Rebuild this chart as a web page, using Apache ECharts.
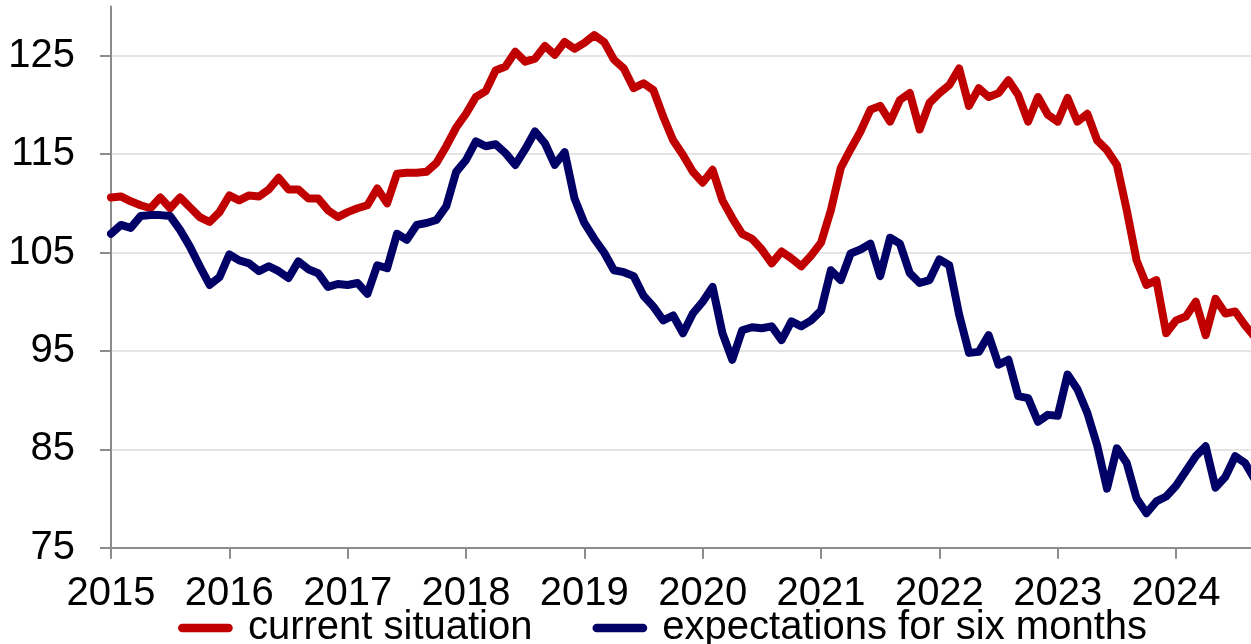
<!DOCTYPE html>
<html>
<head>
<meta charset="utf-8">
<script src="https://cdn.jsdelivr.net/npm/echarts@6/dist/echarts.min.js"></script>
<style>
  html, body { margin: 0; padding: 0; background: #fff; }
  #chart { width: 1251px; height: 644px; }
</style>
</head>
<body>
<div id="chart"></div>
<script>
// monthly values, Jan 2015 onwards
const currentSituation = [
  110.6, 110.7, 110.2, 109.8, 109.5, 110.6, 109.5, 110.6, 109.6, 108.6, 108.1, 109.1,
  110.8, 110.3, 110.8, 110.7, 111.4, 112.6, 111.4, 111.4, 110.5, 110.5, 109.3, 108.6,
  109.1, 109.5, 109.8, 111.5, 110.0, 113.0, 113.1, 113.1, 113.2, 114.1, 115.8, 117.7,
  119.1, 120.8, 121.4, 123.5, 123.9, 125.4, 124.4, 124.7, 126.0, 125.1, 126.4, 125.7,
  126.3, 127.1, 126.4, 124.6, 123.7, 121.7, 122.2, 121.5, 118.8, 116.4, 114.9, 113.2,
  112.1, 113.4, 110.3, 108.5, 106.9, 106.4, 105.3, 103.9, 105.1, 104.4, 103.6, 104.7,
  106.0, 109.3, 113.6, 115.5, 117.3, 119.5, 119.9, 118.3, 120.5, 121.2, 117.5, 120.2,
  121.2, 122.0, 123.7, 119.9, 121.7, 120.8, 121.2, 122.5, 121.0, 118.3, 120.8, 119.0,
  118.3, 120.7, 118.3, 119.1, 116.4, 115.4, 113.9, 109.3, 104.2, 101.7, 102.2, 96.8,
  98.1, 98.5, 100.0, 96.6, 100.3, 98.8, 99.0, 97.6, 96.4
];
const expectations = [
  106.9, 107.8, 107.5, 108.7, 108.8, 108.8, 108.7, 107.3, 105.6, 103.6, 101.7, 102.5,
  104.8, 104.2, 103.9, 103.1, 103.6, 103.1, 102.4, 104.1, 103.3, 102.9, 101.5, 101.8,
  101.7, 101.9, 100.8, 103.7, 103.4, 106.9, 106.3, 107.8, 108.0, 108.3, 109.7, 113.2,
  114.4, 116.3, 115.8, 116.0, 115.1, 113.9, 115.5, 117.3, 116.1, 113.9, 115.2, 110.5,
  108.0, 106.4, 105.0, 103.2, 103.0, 102.6, 100.6, 99.5, 98.1, 98.6, 96.8, 98.8,
  100.0, 101.5, 96.8, 94.1, 97.1, 97.4, 97.3, 97.5, 96.1, 98.0, 97.5, 98.1,
  99.1, 103.2, 102.2, 104.9, 105.3, 105.9, 102.6, 106.5, 105.9, 102.9, 101.9, 102.2,
  104.3, 103.7, 98.7, 94.8, 94.9, 96.6, 93.6, 94.1, 90.4, 90.2, 87.8, 88.5,
  88.4, 92.6, 91.1, 88.7, 85.4, 81.0, 85.1, 83.6, 80.0, 78.5, 79.7, 80.2,
  81.3, 82.8, 84.3, 85.3, 81.1, 82.2, 84.3, 83.6, 81.9
];
const years = ['2015', '2016', '2017', '2018', '2019', '2020', '2021', '2022', '2023', '2024'];
const yTicks = [75, 85, 95, 105, 115, 125];

const yearTicks = years.map((y, i) => i * 12);
const toPairs = arr => arr.map((v, i) => [i, v]);

const chart = echarts.init(document.getElementById('chart'));
const font = '"Liberation Sans", Arial, sans-serif';
// pill shaped legend marker
const pill = 'path://M4.5,0 L53.5,0 A4.5,4.5 0 0 1 53.5,9 L4.5,9 A4.5,4.5 0 0 1 4.5,0 Z';

chart.setOption({
  animation: false,
  textStyle: { fontFamily: font },
  grid: { left: 111, right: 0, top: 6.5, bottom: 96.3 },
  legend: {
    left: 173,
    top: 603,
    icon: pill,
    itemWidth: 59,
    itemHeight: 8.5,
    itemGap: 60,
    textStyle: { fontSize: 40, color: '#000', fontFamily: font, padding: [0, 0, 0, 8] },
    data: ['current situation', 'expectations for six months']
  },
  xAxis: {
    type: 'value',
    min: 0,
    max: 115.6,
    axisLine: { lineStyle: { color: '#8c8c8c', width: 2 } },
    axisTick: { customValues: yearTicks, length: 11, lineStyle: { color: '#8c8c8c', width: 2 } },
    axisLabel: {
      customValues: yearTicks,
      formatter: v => years[Math.round(v / 12)],
      fontSize: 40,
      color: '#000',
      margin: 26
    },
    splitLine: { show: false }
  },
  yAxis: {
    type: 'value',
    min: 75,
    max: 130,
    axisLine: { show: true, lineStyle: { color: '#8c8c8c', width: 2 } },
    axisTick: { show: true, customValues: yTicks, length: 11, lineStyle: { color: '#8c8c8c', width: 2 } },
    axisLabel: { customValues: yTicks, fontSize: 40, color: '#000', margin: 36 },
    splitLine: { show: true, lineStyle: { color: '#dcdcdc', width: 1.5 } }
  },
  series: [
    {
      name: 'current situation',
      type: 'line',
      data: toPairs(currentSituation),
      symbol: 'none',
      color: '#C00000',
      lineStyle: { width: 8, color: '#C00000', cap: 'round', join: 'round' }
    },
    {
      name: 'expectations for six months',
      type: 'line',
      data: toPairs(expectations),
      symbol: 'none',
      color: '#000066',
      lineStyle: { width: 8, color: '#000066', cap: 'round', join: 'round' }
    }
  ]
});
</script>
</body>
</html>
